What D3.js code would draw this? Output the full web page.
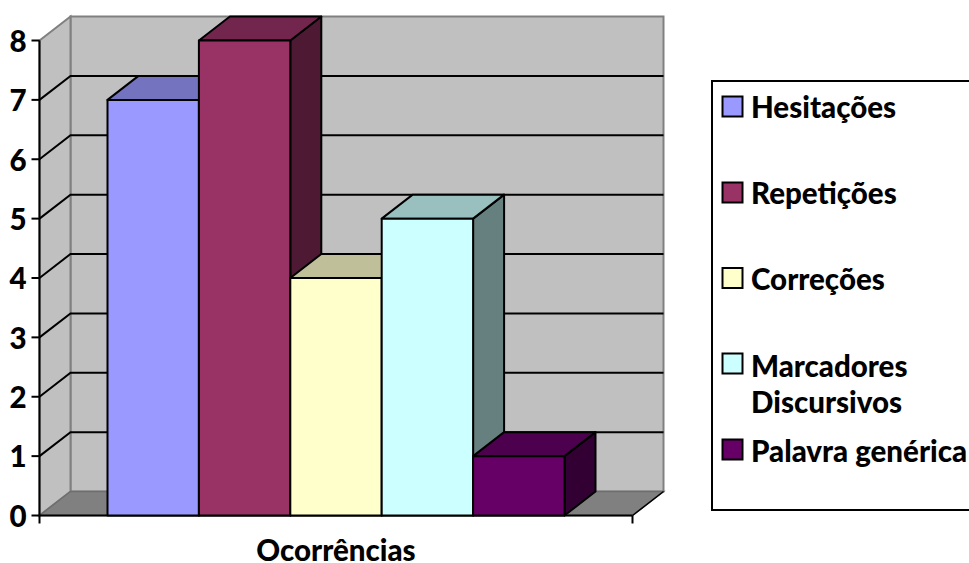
<!DOCTYPE html>
<html>
<head>
<meta charset="utf-8">
<script src="https://cdn.jsdelivr.net/npm/d3@7"></script>
<style>
html,body{margin:0;padding:0;background:#fff;}
svg{display:block;}
text{font-family:Lato,Carlito,sans-serif;font-weight:900;fill:#000;}
</style>
</head>
<body>
<svg id="chart" width="969" height="563"></svg>
<script>
// Occurrences per disfluency type
const seriesNames = ["Hesitações", "Repetições", "Correções", "Marcadores Discursivos", "Palavra genérica"];
const seriesValues = [7, 8, 4, 5, 1];
const seriesColors = ["#9999ff", "#993366", "#ffffcc", "#ccffff", "#660066"];
const topColors = ["#7373bf", "#73264d", "#bfbf99", "#99bfbf", "#4d004d"];
const sideColors = ["#4d4d80", "#4d1933", "#808066", "#668080", "#330033"];
const yTicks = [0, 1, 2, 3, 4, 5, 6, 7, 8];
const gridTicks = [1, 2, 3, 4, 5, 6, 7];
const categoryLabel = "Ocorrências";
const legendLines = [["Hesitações"], ["Repetições"], ["Correções"], ["Marcadores", "Discursivos"], ["Palavra genérica"]];

const svg = d3.select("#chart");
const depthX = 31, depthY = -24;
const y = d3.scaleLinear().domain([0, 8]).range([515.5, 40.5]);
const plotLeft = 39.5, plotRight = 632.5;
const x = d3.scaleBand().domain(seriesNames).range([plotLeft, plotRight]).paddingInner(0).paddingOuter(0.744);
const poly = pts => pts.map(p => p.join(",")).join(" ");
const fontSize = 29.5;

// Back wall, side wall and floor of the 3D box
const wallGray = "#c0c0c0", edgeGray = "#808080";
svg.append("polygon")
  .attr("points", poly([[plotLeft + depthX, y(8) + depthY], [plotRight + depthX, y(8) + depthY], [plotRight + depthX, y(0) + depthY], [plotLeft + depthX, y(0) + depthY]]))
  .attr("fill", wallGray).attr("stroke", edgeGray).attr("stroke-width", 2);
svg.append("polygon")
  .attr("points", poly([[plotLeft, y(8)], [plotLeft + depthX, y(8) + depthY], [plotLeft + depthX, y(0) + depthY], [plotLeft, y(0)]]))
  .attr("fill", wallGray).attr("stroke", edgeGray).attr("stroke-width", 2);
svg.append("polygon")
  .attr("points", poly([[plotLeft, y(0)], [plotLeft + depthX, y(0) + depthY], [plotRight + depthX, y(0) + depthY], [plotRight, y(0)]]))
  .attr("fill", edgeGray).attr("stroke", "#6e6e6e").attr("stroke-width", 1.5);

// Gridlines run along the side wall and across the back wall
svg.append("g").selectAll("polyline").data(gridTicks).join("polyline")
  .attr("points", d => poly([[plotLeft, y(d)], [plotLeft + depthX, y(d) + depthY], [plotRight + depthX, y(d) + depthY]]))
  .attr("fill", "none").attr("stroke", "#000").attr("stroke-width", 2);

// Front axis lines and ticks
svg.append("line").attr("x1", plotLeft).attr("x2", plotLeft).attr("y1", y(8)).attr("y2", y(0)).attr("stroke", "#000").attr("stroke-width", 2);
svg.append("line").attr("x1", plotLeft).attr("x2", plotRight).attr("y1", y(0)).attr("y2", y(0)).attr("stroke", "#000").attr("stroke-width", 2);
svg.append("g").selectAll("line").data(yTicks).join("line")
  .attr("x1", plotLeft - 8).attr("x2", plotLeft).attr("y1", d => y(d)).attr("y2", d => y(d))
  .attr("stroke", "#000").attr("stroke-width", 2);
svg.append("g").selectAll("line").data([plotLeft, plotRight]).join("line")
  .attr("x1", d => d).attr("x2", d => d).attr("y1", y(0)).attr("y2", y(0) + 8)
  .attr("stroke", "#000").attr("stroke-width", 2);
svg.append("line").attr("x1", plotRight).attr("x2", plotRight + depthX).attr("y1", y(0)).attr("y2", y(0) + depthY)
  .attr("stroke", "#000").attr("stroke-width", 1.5);

// Value axis labels
svg.append("g").selectAll("text").data(yTicks).join("text")
  .attr("x", 26.5).attr("y", d => y(d) + 1).attr("dy", "0.35em").attr("text-anchor", "end")
  .attr("font-size", fontSize).text(d => d);

// Bars, each made of a side, a top and a front face
const bars = svg.append("g").selectAll("g").data(seriesNames).join("g")
  .attr("stroke", "#000").attr("stroke-width", 2).attr("stroke-linejoin", "round");
bars.each(function (name, i) {
  const g = d3.select(this);
  const x0 = x(name), x1 = x0 + x.bandwidth(), yv = y(seriesValues[i]), yb = y(0);
  g.append("polygon").attr("fill", sideColors[i])
    .attr("points", poly([[x1, yv], [x1 + depthX, yv + depthY], [x1 + depthX, yb + depthY], [x1, yb]]));
  g.append("polygon").attr("fill", topColors[i])
    .attr("points", poly([[x0, yv], [x0 + depthX, yv + depthY], [x1 + depthX, yv + depthY], [x1, yv]]));
  g.append("polygon").attr("fill", seriesColors[i])
    .attr("points", poly([[x0, yv], [x1, yv], [x1, yb], [x0, yb]]));
});

// Category label
svg.append("text").attr("x", 336).attr("y", 561).attr("text-anchor", "middle")
  .attr("font-size", fontSize).text(categoryLabel);

// Legend box with swatches
svg.append("rect").attr("x", 712).attr("y", 81).attr("width", 400).attr("height", 429)
  .attr("fill", "#fff").attr("stroke", "#000").attr("stroke-width", 2);
const swatchY = [106.5, 192.5, 278, 363.5, 449.5];
const labelY = [108, 194, 280, 367, 452];
const legend = svg.append("g").selectAll("g").data(legendLines).join("g");
legend.append("rect").attr("x", 722.5).attr("y", (d, i) => swatchY[i] - 10).attr("width", 20).attr("height", 20)
  .attr("fill", (d, i) => seriesColors[i]).attr("stroke", "#000").attr("stroke-width", 2);
legend.each(function (lines, i) {
  d3.select(this).selectAll("text").data(lines).join("text")
    .attr("x", 751).attr("y", (d, j) => labelY[i] + j * 36).attr("dy", "0.35em")
    .attr("font-size", fontSize).text(d => d);
});
</script>
</body>
</html>
